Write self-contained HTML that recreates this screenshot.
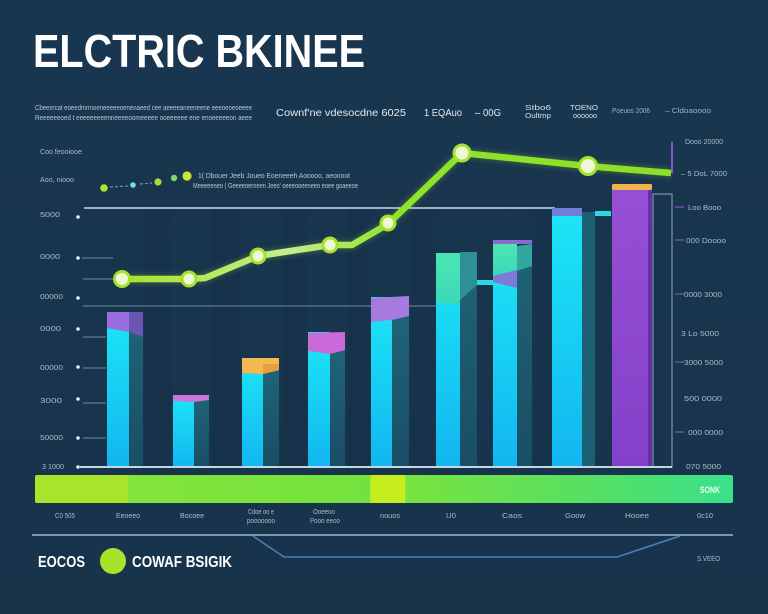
<!DOCTYPE html>
<html><head><meta charset="utf-8"><style>
html,body{margin:0;padding:0;background:#19354c;}
svg{display:block;}
text{font-family:"Liberation Sans",sans-serif;}
</style></head><body>
<svg width="768" height="614" viewBox="0 0 768 614" xmlns="http://www.w3.org/2000/svg">
<defs>
<linearGradient id="bg" x1="0" y1="0" x2="0" y2="1"><stop offset="0" stop-color="#193650"/><stop offset="1" stop-color="#18344b"/></linearGradient>
<linearGradient id="cy" x1="0" y1="0" x2="0" y2="1"><stop offset="0" stop-color="#1de6f6"/><stop offset="1" stop-color="#12b6f0"/></linearGradient>
<linearGradient id="side" x1="0" y1="0" x2="0" y2="1"><stop offset="0" stop-color="#1f6476"/><stop offset="1" stop-color="#1a4e66"/></linearGradient>
<linearGradient id="band" x1="0" y1="0" x2="1" y2="0">
<stop offset="0" stop-color="#a8e52a"/><stop offset="0.133" stop-color="#a8e52a"/><stop offset="0.134" stop-color="#82e43a"/>
<stop offset="0.48" stop-color="#74e23e"/><stop offset="0.481" stop-color="#c6ee1e"/><stop offset="0.53" stop-color="#c6ee1e"/><stop offset="0.531" stop-color="#78e33e"/>
<stop offset="0.8" stop-color="#55e064"/><stop offset="1" stop-color="#3ae08c"/></linearGradient>
<linearGradient id="lineg" x1="0" y1="0" x2="1" y2="0"><stop offset="0" stop-color="#a6e22c"/><stop offset="0.3" stop-color="#c8ec8c"/><stop offset="0.5" stop-color="#8fe32a"/><stop offset="1" stop-color="#8de028"/></linearGradient>
<linearGradient id="grn" x1="0" y1="0" x2="0" y2="1"><stop offset="0" stop-color="#4ce6b2"/><stop offset="1" stop-color="#3ad8b8"/></linearGradient>
<linearGradient id="pur" x1="0" y1="0" x2="0" y2="1"><stop offset="0" stop-color="#9650d6"/><stop offset="1" stop-color="#8440c8"/></linearGradient>
<filter id="glow" x="-20%" y="-50%" width="140%" height="200%"><feGaussianBlur stdDeviation="2"/></filter>
</defs>
<rect width="768" height="614" fill="url(#bg)"/>
<g fill="#16304a" opacity="0.5">
<rect x="145" y="210" width="25" height="257"/><rect x="212" y="210" width="28" height="257"/><rect x="282" y="210" width="24" height="257"/><rect x="348" y="210" width="21" height="257"/><rect x="411" y="210" width="23" height="257"/><rect x="535" y="210" width="15" height="257"/>
</g>

<text x="33" y="67" font-size="46" font-weight="bold" fill="#ffffff" textLength="332" lengthAdjust="spacingAndGlyphs">ELCTRIC BKINEE</text>

<g fill="#b7c6d2" font-size="7">
<text x="35" y="110" textLength="217" lengthAdjust="spacingAndGlyphs">Cbeexrcat eoeedmrmoeneeeeeoenenaeed cee aeeeeaneeneene eeeoeoeoeeee</text>
<text x="35" y="120" textLength="217" lengthAdjust="spacingAndGlyphs">Reeeeeeoed t eeeeeeeeenneeeeoomeeeee ooeeeeee ene enoeeeeeon aeee</text>
</g>
<g fill="#e3ebf0" font-size="10">
<text x="276" y="116" textLength="130" lengthAdjust="spacingAndGlyphs">Cownf'ne vdesocdne 6025</text>
<text x="424" y="116" textLength="38" lengthAdjust="spacingAndGlyphs">1 EQAuo</text>
<text x="475" y="116" textLength="26" lengthAdjust="spacingAndGlyphs">– 00G</text>
</g>
<g fill="#d5e0e8" font-size="7.5">
<text x="525" y="110" textLength="26" lengthAdjust="spacingAndGlyphs">Stbo6</text>
<text x="525" y="118" textLength="26" lengthAdjust="spacingAndGlyphs">Oultmp</text>
<text x="570" y="110" textLength="28" lengthAdjust="spacingAndGlyphs">TOENO</text>
<text x="573" y="118" textLength="24" lengthAdjust="spacingAndGlyphs">oooooo</text>
<text x="612" y="113" textLength="38" lengthAdjust="spacingAndGlyphs" fill="#9fb2c0">Poeuos 2006</text>
<text x="665" y="113" textLength="46" lengthAdjust="spacingAndGlyphs" fill="#9fb2c0">– Cldoaoooo</text>
</g>

<g fill="#a9bac6" font-size="7.5">
<text x="40" y="154" textLength="42" lengthAdjust="spacingAndGlyphs">Coo feooiooe</text>
<text x="40" y="182" textLength="34" lengthAdjust="spacingAndGlyphs">Aoo, niooo</text>
<text x="40" y="217" textLength="20" lengthAdjust="spacingAndGlyphs">5000</text>
<text x="40" y="259" textLength="20" lengthAdjust="spacingAndGlyphs">0000</text>
<text x="40" y="299" textLength="23" lengthAdjust="spacingAndGlyphs">00000</text>
<text x="40" y="331" textLength="21" lengthAdjust="spacingAndGlyphs">0000</text>
<text x="40" y="370" textLength="23" lengthAdjust="spacingAndGlyphs">00000</text>
<text x="40" y="403" textLength="22" lengthAdjust="spacingAndGlyphs">3000</text>
<text x="40" y="440" textLength="23" lengthAdjust="spacingAndGlyphs">50000</text>
<text x="42" y="469" textLength="22" lengthAdjust="spacingAndGlyphs">3 1000</text>
</g>
<g fill="#e6eef4">
<circle cx="78" cy="217" r="1.8"/><circle cx="78" cy="258" r="1.8"/><circle cx="78" cy="298" r="1.8"/><circle cx="78" cy="329" r="1.8"/><circle cx="78" cy="367" r="1.8"/><circle cx="78" cy="399" r="1.8"/><circle cx="78" cy="438" r="1.8"/><circle cx="78" cy="467" r="1.8"/>
</g>
<g stroke="#6d8ca2" stroke-width="1">
<line x1="82" y1="258" x2="113" y2="258"/><line x1="83" y1="279" x2="113" y2="279"/><line x1="83" y1="337" x2="106" y2="337"/><line x1="83" y1="368" x2="106" y2="368"/><line x1="83" y1="403" x2="106" y2="403"/><line x1="83" y1="438" x2="106" y2="438"/>
</g>

<line x1="110" y1="187" x2="128" y2="186" stroke="#6a8fd0" stroke-width="1.2" stroke-dasharray="3,2"/>
<line x1="140" y1="184" x2="152" y2="183" stroke="#6a8fd0" stroke-width="1.2" stroke-dasharray="3,2"/>
<circle cx="104" cy="188" r="3.8" fill="#b4e030"/>
<circle cx="133" cy="185" r="2.8" fill="#6fe6d8"/>
<circle cx="158" cy="182" r="3.6" fill="#a8df38"/>
<circle cx="174" cy="178" r="3.2" fill="#7fd66a"/>
<circle cx="187" cy="176" r="4.6" fill="#c8e830"/>
<g fill="#b9c8d3" font-size="7">
<text x="198" y="178" textLength="152" lengthAdjust="spacingAndGlyphs">1( Dbouer Jeeb Joueo Eoeneeeh Aooooo, aeoooot</text>
<text x="193" y="188" textLength="165" lengthAdjust="spacingAndGlyphs">Meeeeeneo ( Geeeeoerneen Jeeo' oeeeooeeneeo eoee goaeeoe</text>
</g>

<line x1="84" y1="208" x2="555" y2="208" stroke="#c8dce6" stroke-width="1.5"/>
<line x1="83" y1="306" x2="436" y2="306" stroke="#6d8aa0" stroke-width="1"/>

<rect x="129" y="318" width="14" height="149" fill="url(#side)"/>
<rect x="107" y="312" width="22" height="155" fill="url(#cy)"/>
<polygon points="107,312 129,312 129,332 107,328" fill="#9a6ee0"/>
<polygon points="129,312 143,312 143,337 129,332" fill="#6a56b0"/>
<rect x="194" y="399" width="15" height="68" fill="url(#side)"/>
<rect x="173" y="395" width="21" height="72" fill="url(#cy)"/>
<polygon points="173,395 209,395 209,400 194,402 173,401" fill="#c777d8"/>
<rect x="263" y="370" width="16" height="97" fill="url(#side)"/>
<rect x="242" y="358" width="21" height="109" fill="url(#cy)"/>
<polygon points="242,358 279,358 279,370 263,374 242,373" fill="#f4b850"/>
<polygon points="263,364 279,364 279,370 263,374" fill="#e6a040"/>
<rect x="330" y="350" width="15" height="117" fill="url(#side)"/>
<rect x="308" y="332" width="22" height="135" fill="url(#cy)"/>
<polygon points="308,333 345,332 345,350 330,354 308,351" fill="#c96ad8"/>
<rect x="392" y="316" width="17" height="151" fill="url(#side)"/>
<rect x="371" y="297" width="21" height="170" fill="url(#cy)"/>
<polygon points="371,298 409,296 409,316 392,320 371,322" fill="#a57be0"/>
<rect x="460" y="252" width="17" height="215" fill="url(#side)"/>
<polygon points="460,252 477,252 477,285 460,300" fill="#2f8f96"/>
<rect x="436" y="253" width="24" height="214" fill="url(#cy)"/>
<polygon points="436,253 460,253 460,305 436,302" fill="url(#grn)"/>
<rect x="477" y="280" width="16" height="5" fill="#2ed6e6"/>
<rect x="517" y="246" width="15" height="221" fill="url(#side)"/>
<polygon points="517,246 532,244 532,266 517,271" fill="#30a8a0"/>
<rect x="493" y="242" width="24" height="225" fill="url(#cy)"/>
<polygon points="493,244 517,244 517,270 493,276" fill="url(#grn)"/>
<polygon points="493,276 517,270 517,288 493,282" fill="#7d7ad8"/>
<rect x="493" y="240" width="39" height="4" fill="#8a6ad0"/>
<rect x="582" y="212" width="13" height="255" fill="#1d6074"/>
<rect x="552" y="208" width="30" height="259" fill="url(#cy)"/>
<rect x="552" y="208" width="30" height="8" fill="#6f7ed8"/>
<rect x="595" y="211" width="16" height="5" fill="#2ed6e6"/>
<rect x="653" y="194" width="19" height="273" fill="none" stroke="#8fa8ba" stroke-width="1"/>
<rect x="612" y="186" width="38" height="281" fill="url(#pur)"/>
<rect x="648" y="188" width="4" height="279" fill="#6a2fa8"/>
<rect x="612" y="184" width="40" height="6" rx="1.5" fill="#f2b24a"/>

<line x1="80" y1="467" x2="672" y2="467" stroke="#c2d6e2" stroke-width="2"/>

<line x1="672" y1="142" x2="672" y2="173" stroke="#8a4fd0" stroke-width="2"/>
<g stroke="#8a4fd0" stroke-width="1.2">
<line x1="675" y1="207" x2="684" y2="207"/><line x1="675" y1="240" x2="684" y2="240"/><line x1="675" y1="294" x2="684" y2="294"/><line x1="675" y1="362" x2="684" y2="362"/><line x1="675" y1="432" x2="684" y2="432"/>
</g>
<g fill="#a9bac6" font-size="7.5">
<text x="685" y="144" textLength="38" lengthAdjust="spacingAndGlyphs">Dooo 20000</text>
<text x="681" y="176" textLength="46" lengthAdjust="spacingAndGlyphs">– 5 DoL 7000</text>
<text x="688" y="210" textLength="33" lengthAdjust="spacingAndGlyphs">Loo Booo</text>
<text x="686" y="243" textLength="40" lengthAdjust="spacingAndGlyphs">000 Doooo</text>
<text x="684" y="297" textLength="38" lengthAdjust="spacingAndGlyphs">0000 3000</text>
<text x="681" y="336" textLength="38" lengthAdjust="spacingAndGlyphs">3 Lo 5000</text>
<text x="684" y="365" textLength="39" lengthAdjust="spacingAndGlyphs">3000 5000</text>
<text x="684" y="401" textLength="38" lengthAdjust="spacingAndGlyphs">500 0000</text>
<text x="688" y="435" textLength="35" lengthAdjust="spacingAndGlyphs">000 0000</text>
<text x="686" y="469" textLength="35" lengthAdjust="spacingAndGlyphs">070 5000</text>
</g>

<polyline points="122,279 189,279 205,278 258,256 330,245 352,245 388,224 462,153 587,166 671,173" fill="none" stroke="#9ee22a" stroke-width="10" stroke-linejoin="round" opacity="0.22" filter="url(#glow)"/>
<polyline points="122,279 189,279 205,278 258,256 330,245 352,245 388,224 462,153 587,166 671,173" fill="none" stroke="url(#lineg)" stroke-width="6.5" stroke-linejoin="round"/>
<g stroke="#a6e22c" stroke-width="3" fill="#eef8d8">
<circle cx="122" cy="279" r="7.5"/><circle cx="189" cy="279" r="7"/><circle cx="258" cy="256" r="7"/><circle cx="330" cy="245" r="7"/><circle cx="388" cy="223" r="7"/><circle cx="462" cy="153" r="8"/><circle cx="588" cy="166" r="8.5"/>
</g>

<rect x="35" y="475" width="698" height="28" rx="2" fill="url(#band)"/>
<text x="700" y="493" font-size="9" font-weight="bold" fill="#eaffef" textLength="20" lengthAdjust="spacingAndGlyphs">SONK</text>

<g fill="#a9bac6" font-size="7.5">
<text x="55" y="518" textLength="20" lengthAdjust="spacingAndGlyphs">C0 505</text>
<text x="116" y="518" textLength="24" lengthAdjust="spacingAndGlyphs">Eeoeeo</text>
<text x="180" y="518" textLength="24" lengthAdjust="spacingAndGlyphs">Bocoee</text>
<text x="248" y="514" textLength="26" lengthAdjust="spacingAndGlyphs">Cdoe oo e</text>
<text x="247" y="523" textLength="28" lengthAdjust="spacingAndGlyphs">pooooooo</text>
<text x="313" y="514" textLength="22" lengthAdjust="spacingAndGlyphs">Ooeeoo</text>
<text x="310" y="523" textLength="30" lengthAdjust="spacingAndGlyphs">Pooo eeoo</text>
<text x="380" y="518" textLength="20" lengthAdjust="spacingAndGlyphs">nouos</text>
<text x="446" y="518" textLength="10" lengthAdjust="spacingAndGlyphs">U0</text>
<text x="502" y="518" textLength="20" lengthAdjust="spacingAndGlyphs">Caos</text>
<text x="565" y="518" textLength="20" lengthAdjust="spacingAndGlyphs">Goow</text>
<text x="625" y="518" textLength="24" lengthAdjust="spacingAndGlyphs">Hooee</text>
<text x="697" y="518" textLength="16" lengthAdjust="spacingAndGlyphs">0c10</text>
<text x="697" y="561" textLength="23" lengthAdjust="spacingAndGlyphs">S.VEEO</text>
</g>

<line x1="32" y1="535" x2="733" y2="535" stroke="#9cb8cc" stroke-width="1.5"/>
<polyline points="253,536 284,557 617,557 680,536" fill="none" stroke="#4a7fb8" stroke-width="1.6"/>

<text x="38" y="567" font-size="16" font-weight="bold" fill="#ffffff" textLength="47" lengthAdjust="spacingAndGlyphs">EOCOS</text>
<circle cx="113" cy="561" r="13" fill="#a6e32a"/>
<text x="132" y="567" font-size="16" font-weight="bold" fill="#ffffff" textLength="100" lengthAdjust="spacingAndGlyphs">COWAF BSIGIK</text>
</svg>
</body></html>
